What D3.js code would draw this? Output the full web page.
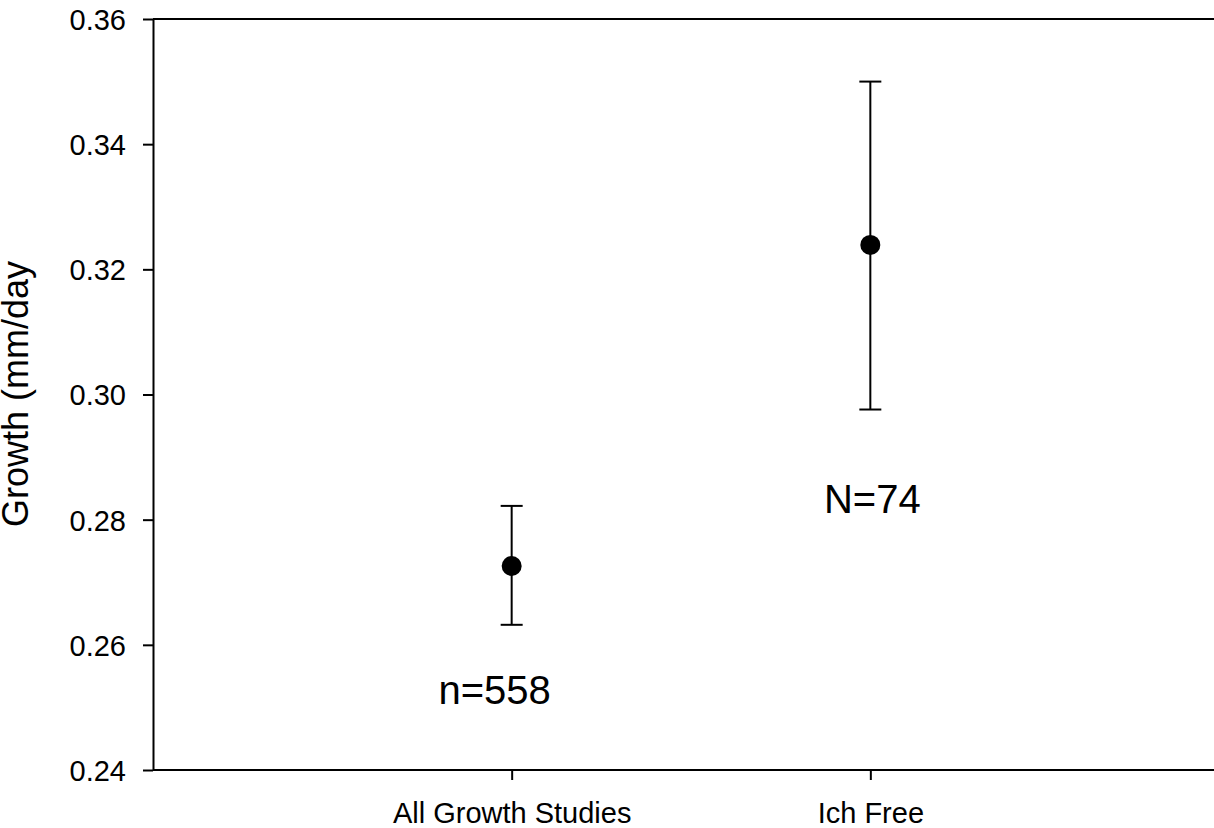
<!DOCTYPE html>
<html>
<head>
<meta charset="utf-8">
<script src="https://cdn.jsdelivr.net/npm/d3@7"></script>
<style>
    body { margin: 0; background: #fff; }
    svg { display: block; font-family: "Liberation Sans", Arial, sans-serif; }
</style>
</head>
<body>
<script>
// data
var categories = ['All Growth Studies', 'Ich Free'],
    means = [0.2726, 0.3239],
    upper = [0.2822, 0.3500],
    lower = [0.2632, 0.2976],
    notes = ['n=558', 'N=74'],
    noteAt = [0.2506, 0.2811],
    yTicks = [0.24, 0.26, 0.28, 0.30, 0.32, 0.34, 0.36];

(function () {
    var width = 1214,
        height = 828,
        left = 153,
        right = 1229,
        top = 19,
        bottom = 770,
        svg, x, y, g;

    svg = d3.select('body').append('svg')
        .attr('width', width)
        .attr('height', height);

    x = d3.scalePoint().domain(categories).range([left, right]).padding(1);
    y = d3.scaleLinear().domain([0.24, 0.36]).range([bottom, top]);

    // frame: top line and (off-canvas) right line
    svg.append('path')
        .attr('d', 'M' + left + ',' + top + 'H' + right + 'V' + bottom)
        .attr('fill', 'none')
        .attr('stroke', '#000')
        .attr('stroke-width', 2);

    // y axis
    g = svg.append('g')
        .attr('transform', 'translate(' + left + ',0)')
        .call(d3.axisLeft(y).tickValues(yTicks).tickFormat(d3.format('.2f'))
            .tickSize(10).tickSizeOuter(0).tickPadding(17));
    g.selectAll('path, line').attr('stroke-width', 2);
    g.selectAll('text').attr('font-size', 29).attr('font-family', null).attr('dy', '0.36em');

    // x axis
    g = svg.append('g')
        .attr('transform', 'translate(0,' + bottom + ')')
        .call(d3.axisBottom(x).tickSize(10).tickSizeOuter(0).tickPadding(22));
    g.select('.domain').attr('d', 'M' + left + ',0H' + right);
    g.selectAll('path, line').attr('stroke-width', 2);
    g.selectAll('text').attr('font-size', 29).attr('font-family', null);

    // y title
    svg.append('text')
        .attr('transform', 'translate(28,394) rotate(-90)')
        .attr('text-anchor', 'middle')
        .attr('font-size', 36)
        .text('Growth (mm/day');

    var rows = categories.map(function (c, i) {
        return { cat: c, mean: means[i], hi: upper[i], lo: lower[i], note: notes[i], noteY: noteAt[i] };
    });

    // error bars
    var bars = svg.selectAll('g.bar').data(rows).enter().append('g')
        .attr('class', 'bar')
        .attr('stroke', '#000')
        .attr('stroke-width', 2);
    bars.append('line')
        .attr('x1', function (d) { return x(d.cat); })
        .attr('x2', function (d) { return x(d.cat); })
        .attr('y1', function (d) { return y(d.hi); })
        .attr('y2', function (d) { return y(d.lo); });
    bars.append('line')
        .attr('x1', function (d) { return x(d.cat) - 11; })
        .attr('x2', function (d) { return x(d.cat) + 11; })
        .attr('y1', function (d) { return y(d.hi); })
        .attr('y2', function (d) { return y(d.hi); });
    bars.append('line')
        .attr('x1', function (d) { return x(d.cat) - 11; })
        .attr('x2', function (d) { return x(d.cat) + 11; })
        .attr('y1', function (d) { return y(d.lo); })
        .attr('y2', function (d) { return y(d.lo); });

    // means
    svg.selectAll('circle').data(rows).enter().append('circle')
        .attr('cx', function (d) { return x(d.cat); })
        .attr('cy', function (d) { return y(d.mean); })
        .attr('r', 10)
        .attr('fill', '#000');

    // sample size notes
    svg.selectAll('text.note').data(rows).enter().append('text')
        .attr('class', 'note')
        .attr('x', function (d, i) { return x(d.cat) + (i === 0 ? -17 : 2); })
        .attr('y', function (d) { return y(d.noteY); })
        .attr('text-anchor', 'middle')
        .attr('font-size', 40)
        .text(function (d) { return d.note; });
}());
</script>
</body>
</html>
